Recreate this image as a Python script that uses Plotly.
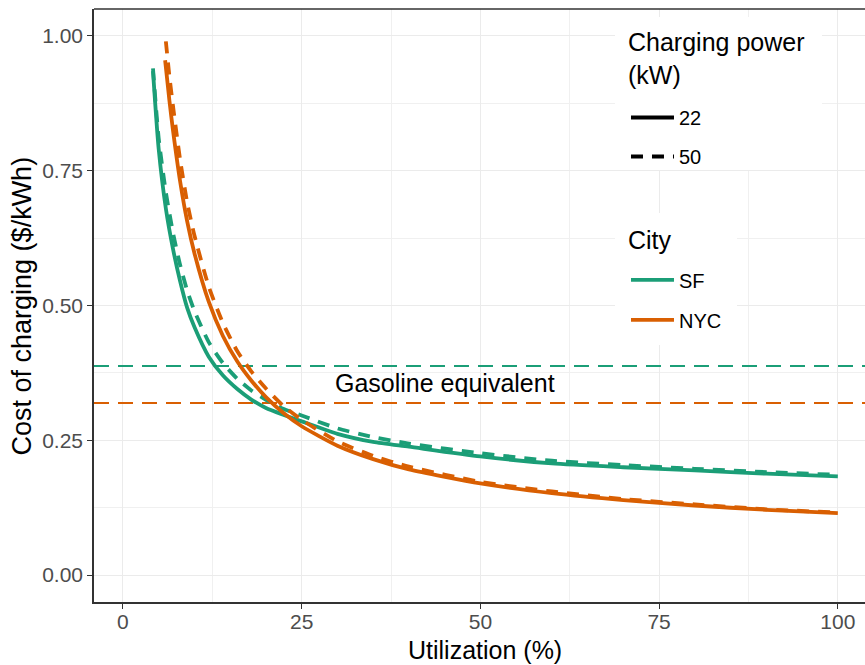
import plotly.graph_objects as go

# ---- data ----
sf_util = [4.2, 5, 6, 7, 8, 9, 10, 12, 14, 16, 18, 20, 22.5, 25, 30, 35, 40, 50, 60, 70, 80, 90, 100]
sf_22 = [0.935, 0.79, 0.68, 0.605, 0.545, 0.495, 0.46, 0.405, 0.37, 0.345, 0.325, 0.31, 0.297,
         0.285, 0.262, 0.247, 0.238, 0.22, 0.207, 0.2, 0.194, 0.188, 0.183]
sf_50 = [0.94, 0.81, 0.71, 0.635, 0.575, 0.527, 0.49, 0.432, 0.393, 0.364, 0.342, 0.325, 0.308,
         0.296, 0.272, 0.256, 0.244, 0.226, 0.212, 0.204, 0.197, 0.191, 0.186]

nyc_util_22 = [5.9, 6.5, 7, 8, 9, 10, 12, 14, 16, 18, 20, 22.5, 25, 30, 35, 40, 50, 60, 70, 80, 90, 100]
nyc_22 = [0.955, 0.88, 0.825, 0.73, 0.655, 0.597, 0.507, 0.443, 0.396, 0.36, 0.33, 0.30, 0.276,
          0.24, 0.215, 0.196, 0.17, 0.152, 0.139, 0.129, 0.121, 0.115]
nyc_util_50 = [6.0, 6.5, 7, 8, 9, 10, 12, 14, 16, 18, 20, 22.5, 25, 30, 35, 40, 50, 60, 70, 80, 90, 100]
nyc_50 = [0.99, 0.925, 0.87, 0.77, 0.69, 0.63, 0.535, 0.467, 0.415, 0.377, 0.346, 0.313, 0.288,
          0.248, 0.221, 0.201, 0.173, 0.155, 0.141, 0.131, 0.122, 0.116]

cities = ["SF", "NYC"]
city_colors = ["#1B9E77", "#D95F02"]
gas_equiv = [0.388, 0.319]
powers = ["22", "50"]
power_dash = ["solid", "12px,9px"]

x_range = [-4.05, 103.8]
y_range = [-0.05, 1.05]
x_ticks = [0, 25, 50, 75, 100]
x_minor = [12.5, 37.5, 62.5, 87.5]
y_ticks = [0, 0.25, 0.5, 0.75, 1.0]
y_minor = [0.125, 0.375, 0.625, 0.875]
y_tick_labels = ["0.00", "0.25", "0.50", "0.75", "1.00"]

FONT = "Liberation Sans, Arial, sans-serif"
LW = 3.8

fig = go.Figure()

# gasoline equivalent lines (span the full panel)
for ci, g in enumerate(gas_equiv):
    fig.add_trace(go.Scatter(
        x=x_range, y=[g, g], mode="lines", showlegend=False, hoverinfo="skip",
        line=dict(color=city_colors[ci], width=2, dash="15px,9px"),
    ))

series = [
    (sf_util, sf_22, 0, 0),
    (sf_util, sf_50, 0, 1),
    (nyc_util_22, nyc_22, 1, 0),
    (nyc_util_50, nyc_50, 1, 1),
]
for xs, ys, ci, pi in series:
    fig.add_trace(go.Scatter(
        x=xs, y=ys, mode="lines", showlegend=False, hoverinfo="skip",
        line=dict(color=city_colors[ci], width=LW, dash=power_dash[pi], shape="spline", smoothing=0.6),
    ))

fig.add_annotation(x=45, y=0.357, text="Gasoline equivalent", showarrow=False,
                   font=dict(family=FONT, size=25, color="black"), xanchor="center", yanchor="middle")

# legend entries: charging power
for pi, p in enumerate(powers):
    fig.add_trace(go.Scatter(x=[None], y=[None], mode="lines", name=p, legend="legend",
                             legendgroup="p" + p,
                             line=dict(color="black", width=LW, dash=power_dash[pi])))
# legend entries: city
for ci, c in enumerate(cities):
    fig.add_trace(go.Scatter(x=[None], y=[None], mode="lines", name=c, legend="legend2",
                             legendgroup="c" + c,
                             line=dict(color=city_colors[ci], width=LW)))

grid_major = "#EBEBEB"
axis_common = dict(
    showline=True, linecolor="#333333", linewidth=1.5,
    ticks="outside", ticklen=5, tickwidth=1.2, tickcolor="#333333",
    showgrid=True, gridcolor=grid_major, gridwidth=1.4, zeroline=False,
    tickfont=dict(family=FONT, size=21, color="#4D4D4D"),
    automargin=False,
)

fig.update_layout(
    width=865, height=665,
    margin=dict(l=94, r=0, t=9, b=63, autoexpand=False),
    plot_bgcolor="white", paper_bgcolor="white",
    font=dict(family=FONT),
    xaxis=dict(range=x_range, tickvals=x_ticks, ticklabelstandoff=-5,
               minor=dict(tickvals=x_minor, showgrid=True, gridcolor="#F0F0F0", gridwidth=1, ticks=""),
               **axis_common),
    yaxis=dict(range=y_range, tickvals=y_ticks, ticktext=y_tick_labels,
               minor=dict(tickvals=y_minor, showgrid=True, gridcolor="#F0F0F0", gridwidth=1, ticks=""),
               **axis_common),
    legend=dict(
        font=dict(family=FONT, size=20, color="black"),
        x=0.690, y=0.8499, xanchor="left", yanchor="top",
        bgcolor="rgba(0,0,0,0)", traceorder="grouped", tracegroupgap=10, itemwidth=43,
    ),
    legend2=dict(
        font=dict(family=FONT, size=20, color="black"),
        x=0.690, y=0.5760, xanchor="left", yanchor="top",
        bgcolor="rgba(0,0,0,0)", traceorder="grouped", tracegroupgap=11, itemwidth=43,
    ),
)

# legend background boxes (white, hide gridlines) and top panel border
fig.add_shape(type="rect", xref="paper", yref="paper", x0=0.6757, x1=0.9442, y0=0.7285, y1=0.9865,
              fillcolor="white", line=dict(width=0), layer="above")
fig.add_shape(type="rect", xref="paper", yref="paper", x0=0.6757, x1=0.834, y0=0.4334, y1=0.656,
              fillcolor="white", line=dict(width=0), layer="above")
fig.add_shape(type="line", xref="paper", yref="paper", x0=0, x1=1, y0=1, y1=1,
              line=dict(color="#333333", width=1.5))

# legend titles
fig.add_annotation(xref="paper", yref="paper", x=0.6898, y=0.9163, text="Charging power<br>(kW)",
                   showarrow=False, align="left", font=dict(family=FONT, size=25, color="black"),
                   xanchor="left", yanchor="middle")
fig.add_annotation(xref="paper", yref="paper", x=0.6898, y=0.6105, text="City",
                   showarrow=False, align="left", font=dict(family=FONT, size=25, color="black"),
                   xanchor="left", yanchor="middle")

# axis titles
fig.add_annotation(xref="paper", yref="paper", x=0.507, y=-0.081, text="Utilization (%)",
                   showarrow=False, font=dict(family=FONT, size=25, color="black"),
                   xanchor="center", yanchor="middle")
fig.add_annotation(xref="paper", yref="paper", x=-0.0934, y=0.5, text="Cost of charging ($/kWh)",
                   showarrow=False, textangle=-90, font=dict(family=FONT, size=27, color="black"),
                   xanchor="center", yanchor="middle")

fig.write_html("out.html", config={"displayModeBar": False},
               post_script="document.body.style.margin='0';")
